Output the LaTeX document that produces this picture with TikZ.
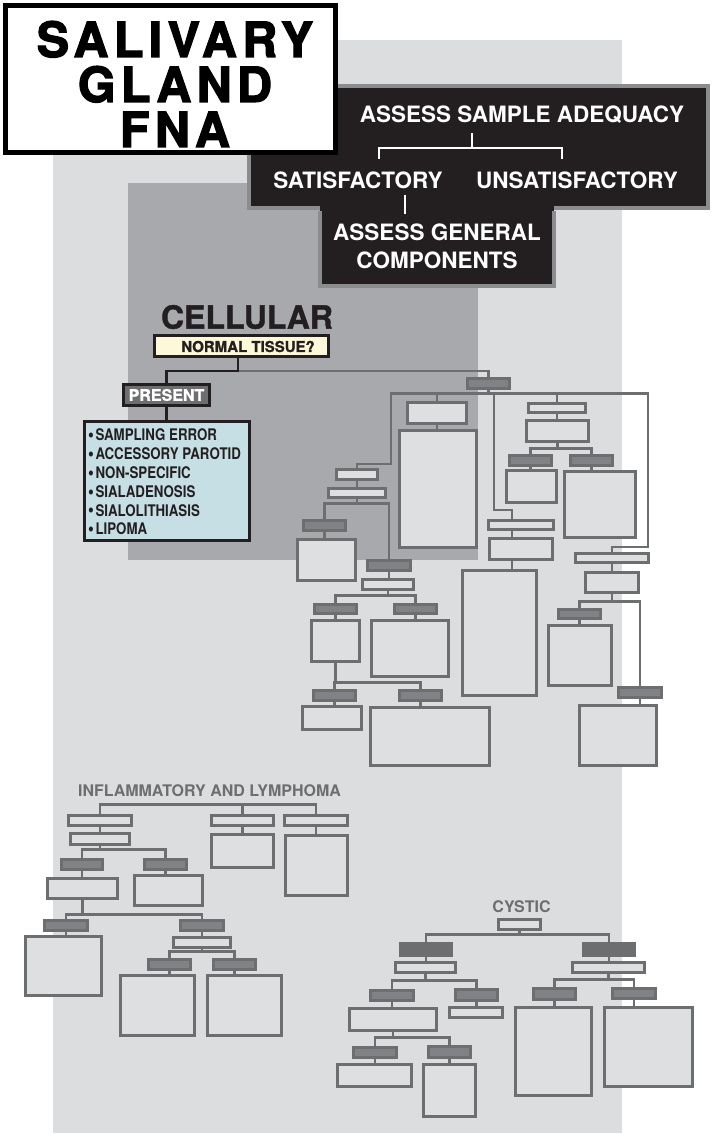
\documentclass[tikz,border=0pt]{standalone}
\usepackage{fontspec}
\setmainfont{TeX Gyre Heros}
\newfontfamily\hvtitle[LetterSpace=11,BoldFeatures={FakeBold=2.5}]{TeX Gyre Heros}
\newfontfamily\hvheavy[BoldFeatures={FakeBold=1.2}]{TeX Gyre Heros}
\newfontfamily\hvcond[FakeStretch=0.83]{TeX Gyre Heros}
\usetikzlibrary{calc}

\definecolor{panelL}{HTML}{DCDDDF}
\definecolor{panelD}{HTML}{A7A9AC}
\definecolor{gborder}{HTML}{6D6E70}
\definecolor{darkfill}{HTML}{808285}
\definecolor{ink}{HTML}{231F20}
\definecolor{ntfill}{HTML}{FDF9D8}
\definecolor{listfill}{HTML}{C6DFE5}
\definecolor{frame}{HTML}{8A8C8E}
\definecolor{boxfill}{HTML}{DEDFE1}

\pgfdeclarelayer{panel}
\pgfdeclarelayer{wires}
\pgfsetlayers{panel,wires,main}

\tikzset{
  lbox/.style={draw=gborder, fill=boxfill, line width=2.8pt, inner sep=0pt, outer sep=0pt},
  dbox/.style={draw=gborder, fill=darkfill, line width=2.8pt, inner sep=0pt, outer sep=0pt},
  kbox/.style={draw=gborder, fill=gborder, line width=2.8pt, inner sep=0pt, outer sep=0pt},
  conn/.style={draw=gborder, line width=2.4pt},
  bline/.style={draw=ink, line width=2.8pt},
  wline/.style={draw=white, line width=2.8pt},
  wtext/.style={text=white, inner sep=0pt, font=\bfseries\fontsize{22.5}{28}\selectfont},
  gtitle/.style={text=gborder, inner sep=0pt, font=\bfseries\fontsize{16}{16}\selectfont},
}

% box from corner (x1,y1) to (x2,y2): style, x1, y1, x2, y2, name
\newcommand{\bx}[6]{%
  \node[#1, minimum width={#4-#2-2.8}, minimum height={#5-#3-2.8}]
    (#6) at ({(#2+#4)/2},{(#3+#5)/2}) {};}
% list bullet
\newcommand{\dotitem}{\smash{\raisebox{-0.8pt}{\fontsize{20}{16}\selectfont•}}\hspace{1.5pt}}

\begin{document}
\begin{tikzpicture}[x=1pt,y=-1pt]
\useasboundingbox (0,0) rectangle (714,1134);

\begin{pgfonlayer}{panel}
  \fill[white] (0,0) rectangle (714,1134);
  \fill[panelL] (53,40) rectangle (622,1133);
  \fill[panelD] (128,183) rectangle (478,560);
\end{pgfonlayer}

% ---------- adequacy header ----------
\node[fill=ink, draw=frame, line width=4pt, minimum width=459pt, minimum height=122pt, inner sep=0pt]
  (hdr) at (478.5,147) {};
\node[wtext] (adq) at (522,115) {ASSESS SAMPLE ADEQUACY};
\node[wtext] (sat) at (358,180) {SATISFACTORY};
\node[wtext] (unsat) at (577,180) {UNSATISFACTORY};
\draw[wline] ([xshift=-50pt,yshift=-9pt]adq.south) -- ++(0,15) -| ([xshift=21pt,yshift=12pt]sat.north);
\draw[wline] ([xshift=-50pt,yshift=-9pt]adq.south) -- ++(0,15) -| ([xshift=-15pt,yshift=12pt]unsat.north);

\node[fill=ink, minimum width=234pt, minimum height=83pt, inner sep=0pt] (gen) at (437,244.5) {};
\draw[frame, line width=4pt] ([yshift=-8pt]gen.north west) -- (gen.south west) -- (gen.south east) -- ([yshift=-8pt]gen.north east);
\node[wtext, align=center] (gentxt) at (437,246) {ASSESS GENERAL\\COMPONENTS};
\draw[wline] ([xshift=47pt,yshift=-6pt]sat.south) -- ++(0,19);

% ---------- title ----------
\node[fill=white, draw=black, line width=5pt, minimum width=330pt, minimum height=147pt, inner sep=0pt]
  (ttl) at (170.5,79) {};
\node[align=center, inner sep=0pt, font=\hvtitle\bfseries\fontsize{48.5}{45}\selectfont] (ttltxt) at (175,84)
  {SALIVARY\\GLAND\\FNA};

% ---------- cellular ----------
\node[text=ink, inner sep=0pt, font=\hvheavy\bfseries\fontsize{32}{32}\selectfont] (cell) at (247,317) {CELLULAR};
\node[fill=ntfill, draw=ink, line width=2.8pt, minimum width=174pt, minimum height=21pt, inner sep=0pt] (nt) at (241.5,346) {};
\node[text=ink, inner sep=0pt, font=\hvheavy\bfseries\fontsize{15}{15}\selectfont] (nttxt) at (248,346.5) {NORMAL TISSUE?};
\node[fill=gborder, draw=ink, line width=2.8pt, minimum width=86pt, minimum height=21pt, inner sep=0pt,
  text=white, font=\hvheavy\bfseries\fontsize{16}{16}\selectfont] (pr) at (166.5,395) {PRESENT};
\node[fill=listfill, draw=ink, line width=2.8pt, minimum width=165pt, minimum height=119pt, inner sep=0pt] (lst) at (167,481) {};
\node[anchor=west, align=left, inner sep=0pt, text=ink, font=\hvcond\bfseries\fontsize{16}{18.8}\selectfont] (lsttxt) at (88,482)
  {\dotitem SAMPLING ERROR\\\dotitem ACCESSORY PAROTID\\\dotitem NON-SPECIFIC\\\dotitem SIALADENOSIS\\\dotitem SIALOLITHIASIS\\\dotitem LIPOMA};

\bx{dbox}{466}{377}{511}{390}{cr}
\bx{lbox}{335}{468}{379}{481}{a1}
\bx{lbox}{327}{487}{387}{499}{a2}
\bx{dbox}{302}{519}{347}{532}{a3}
\bx{lbox}{296}{538}{357}{582}{a4}
\bx{dbox}{366}{559}{412}{572}{a5}
\bx{lbox}{361}{578}{415}{591}{a6}
\bx{dbox}{313}{603}{358}{615}{a7}
\bx{dbox}{393}{603}{438}{615}{a8}
\bx{lbox}{310}{619}{361}{663}{a9}
\bx{lbox}{370}{619}{450}{678}{a10}
\bx{dbox}{312}{689}{357}{702}{a11}
\bx{dbox}{398}{689}{443}{702}{a12}
\bx{lbox}{301}{705}{363}{731}{a13}
\bx{lbox}{369}{706}{491}{767}{a14}
\bx{lbox}{406}{401}{468}{425}{b1}
\bx{lbox}{398}{429}{478}{549}{b2}
\bx{lbox}{487}{519}{555}{531}{c1}
\bx{lbox}{488}{537}{554}{561}{c2}
\bx{lbox}{461}{569}{538}{697}{c3}
\bx{lbox}{527}{402}{587}{414}{e1}
\bx{lbox}{525}{419}{590}{443}{e2}
\bx{dbox}{508}{454}{553}{467}{e3}
\bx{dbox}{569}{454}{614}{467}{e4}
\bx{lbox}{505}{469}{558}{504}{e5}
\bx{lbox}{563}{470}{637}{539}{e6}
\bx{lbox}{574}{552}{650}{564}{f1}
\bx{lbox}{584}{571}{640}{594}{f2}
\bx{dbox}{557}{608}{602}{620}{f3}
\bx{lbox}{547}{624}{613}{687}{f4}
\bx{dbox}{617}{686}{663}{699}{f5}
\bx{lbox}{578}{704}{658}{767}{f6}

% ---------- inflammatory and lymphoma ----------
\node[gtitle] (inf) at (209.5,791) {INFLAMMATORY AND LYMPHOMA};
\bx{lbox}{67}{814}{133}{827}{i1}
\bx{lbox}{69}{832}{131}{846}{i2}
\bx{dbox}{60}{858}{104}{871}{i3}
\bx{dbox}{143}{858}{188}{871}{i4}
\bx{lbox}{46}{877}{119}{900}{i5}
\bx{lbox}{133}{874}{204}{907}{i6}
\bx{dbox}{43}{919}{89}{932}{i7}
\bx{lbox}{24}{935}{103}{997}{i8}
\bx{dbox}{179}{919}{225}{932}{i9}
\bx{lbox}{172}{936}{232}{949}{i10}
\bx{dbox}{147}{958}{192}{971}{i11}
\bx{dbox}{212}{958}{257}{971}{i12}
\bx{lbox}{119}{974}{196}{1037}{i13}
\bx{lbox}{206}{974}{283}{1037}{i14}
\bx{lbox}{210}{814}{275}{827}{i15}
\bx{lbox}{210}{833}{275}{869}{i16}
\bx{lbox}{283}{814}{349}{827}{i17}
\bx{lbox}{284}{834}{349}{897}{i18}

% ---------- cystic ----------
\node[gtitle] (cys) at (521.5,907) {CYSTIC};
\bx{lbox}{497}{918}{542}{931}{k1}
\bx{kbox}{399}{942}{453}{957}{k2}
\bx{kbox}{582}{942}{636}{957}{k3}
\bx{lbox}{394}{961}{457}{974}{k4}
\bx{lbox}{571}{961}{646}{974}{k5}
\bx{dbox}{369}{989}{415}{1002}{k6}
\bx{dbox}{454}{988}{499}{1002}{k7}
\bx{lbox}{348}{1007}{438}{1032}{k8}
\bx{lbox}{448}{1006}{504}{1019}{k9}
\bx{dbox}{532}{987}{577}{1001}{k10}
\bx{dbox}{611}{987}{657}{1000}{k11}
\bx{lbox}{514}{1006}{593}{1097}{k12}
\bx{lbox}{603}{1006}{694}{1088}{k13}
\bx{dbox}{352}{1046}{398}{1059}{k14}
\bx{dbox}{427}{1045}{472}{1059}{k15}
\bx{lbox}{336}{1063}{413}{1088}{k16}
\bx{lbox}{422}{1063}{477}{1118}{k17}

% ---------- connectors ----------
\begin{pgfonlayer}{wires}
  % normal tissue branches
  \draw[conn] ([xshift=-3.5pt]nt.south) ++(0,13) -| (cr.north);
  \draw[bline] ([xshift=-3.5pt]nt.south) -- ++(0,13) -| (pr.north);
  \draw[bline] (pr.south) -- (pr.south |- lst.north);

  % cellular tree
  \draw[conn] (cr.south) -- ++(0,5) -| (b1.north);
  \draw[conn] (b1.south) -- (b1.south |- b2.north);
  \draw[conn] (cr.south) -- ++(0,5) -| (e1.north);
  \draw[conn] (e1.south) -- (e1.south |- e2.north);
  \draw[conn] (e2.south) -- ++(0,7) -| (e3.north);
  \draw[conn] (e2.south) -- ++(0,7) -| (e4.north);
  \draw[conn] (e3.south) -- (e3.south |- e5.north);
  \draw[conn] (e4.south) -- (e4.south |- e6.north);
  \draw[conn] (cr.south) -- ++(0,5) -| (391,464) -| (a1.north);
  \draw[conn] (a1.south) -- (a1.south |- a2.north);
  \draw[conn] (a2.south) -- ++(0,6) -| (a3.north);
  \draw[conn] (a2.south) -- ++(0,6) -| (a5.north);
  \draw[conn] (a3.south) -- (a3.south |- a4.north);
  \draw[conn] (a5.south) -- (a5.south |- a6.north);
  \draw[conn] (a6.south) -- ++(0,6) -| (a7.north);
  \draw[conn] (a6.south) -- ++(0,6) -| (a8.north);
  \draw[conn] (a7.south) -- (a7.south |- a9.north);
  \draw[conn] (a8.south) -- (a8.south |- a10.north);
  \draw[conn] (a9.south) -- ++(0,21) -| (a11.north);
  \draw[conn] (a9.south) -- ++(0,21) -| (a12.north);
  \draw[conn] (a11.south) -- (a11.south |- a13.north);
  \draw[conn] (a12.south) -- (a12.south |- a14.north);
  \draw[conn] (cr.south) -- ++(0,5) -| (494,510) -| ([xshift=-9pt]c1.north);
  \draw[conn] ([xshift=-9pt]c1.south) -- ([xshift=-9pt]c2.north);
  \draw[conn] ([xshift=-9pt]c2.south) -- ([xshift=-9pt]c2.south |- c3.north);
  \draw[conn] (cr.south) -- ++(0,5) -| (648,547) -| (f1.north);
  \draw[conn] (f1.south) -- (f1.south |- f2.north);
  \draw[conn] (f2.south) -- ++(0,9) -| (f3.north);
  \draw[conn] (f2.south) -- ++(0,9) -| (f5.north);
  \draw[conn] (f3.south) -- (f3.south |- f4.north);
  \draw[conn] (f5.south) -- (f5.south |- f6.north);

  % inflammatory and lymphoma tree
  \draw[conn] (i1.north) -- ++(0,-11) -| (i15.north);
  \draw[conn] (i1.north) -- ++(0,-11) -| (i17.north);
  \draw[conn] (i1.south) -- (i1.south |- i2.north);
  \draw[conn] (i15.south) -- (i15.south |- i16.north);
  \draw[conn] (i17.south) -- (i17.south |- i18.north);
  \draw[conn] (i2.south) -- ++(0,5) -| (i3.north);
  \draw[conn] (i2.south) -- ++(0,5) -| (i4.north);
  \draw[conn] (i3.south) -- (i3.south |- i5.north);
  \draw[conn] (i4.south) -- (i4.south |- i6.north);
  \draw[conn] (i5.south) -- ++(0,16) -| (i7.north);
  \draw[conn] (i5.south) -- ++(0,16) -| (i9.north);
  \draw[conn] (i7.south) -- (i7.south |- i8.north);
  \draw[conn] (i9.south) -- (i9.south |- i10.north);
  \draw[conn] (i10.south) -- ++(0,4) -| (i11.north);
  \draw[conn] (i10.south) -- ++(0,4) -| (i12.north);
  \draw[conn] (i11.south) -- (i11.south |- i13.north);
  \draw[conn] (i12.south) -- (i12.south |- i14.north);

  % cystic tree
  \draw[conn] (k1.south) -- ++(0,5) -| (k2.north);
  \draw[conn] (k1.south) -- ++(0,5) -| (k3.north);
  \draw[conn] (k2.south) -- (k2.south |- k4.north);
  \draw[conn] (k3.south) -- (k3.south |- k5.north);
  \draw[conn] (k4.south) -- ++(0,8) -| (k6.north);
  \draw[conn] (k4.south) -- ++(0,8) -| (k7.north);
  \draw[conn] (k5.south) -- ++(0,7) -| (k10.north);
  \draw[conn] (k5.south) -- ++(0,7) -| (k11.north);
  \draw[conn] (k6.south) -- (k6.south |- k8.north);
  \draw[conn] (k7.south) -- (k7.south |- k9.north);
  \draw[conn] (k10.south) -- (k10.south |- k12.north);
  \draw[conn] (k11.south) -- (k11.south |- k13.north);
  \draw[conn] (k8.south) -- ++(0,7) -| (k14.north);
  \draw[conn] (k8.south) -- ++(0,7) -| (k15.north);
  \draw[conn] (k14.south) -- (k14.south |- k16.north);
  \draw[conn] (k15.south) -- (k15.south |- k17.north);
\end{pgfonlayer}
\end{tikzpicture}
\end{document}
